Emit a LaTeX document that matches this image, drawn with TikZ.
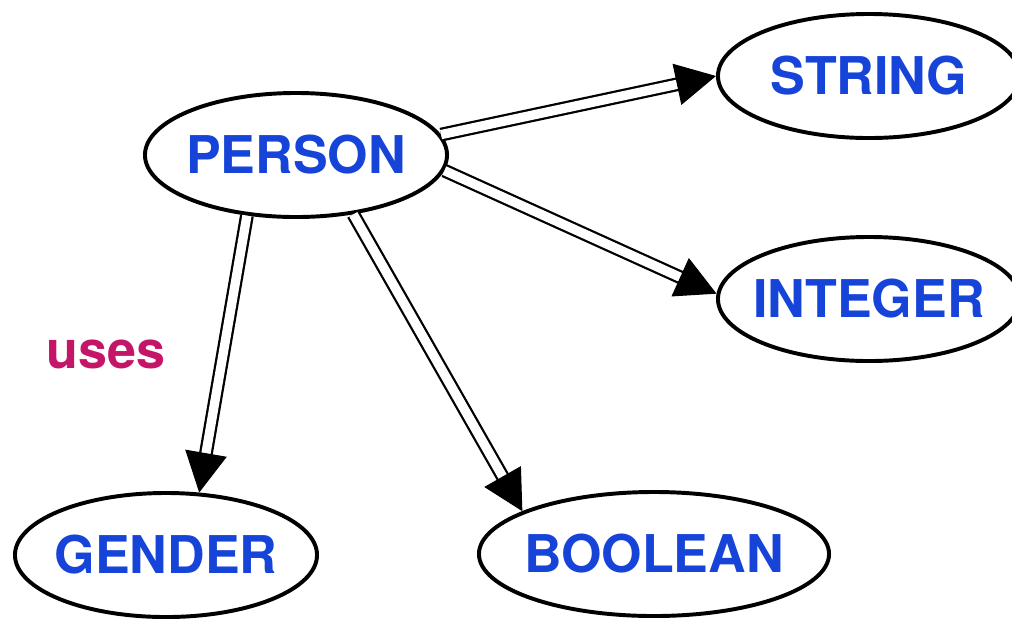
\documentclass[tikz,border=0pt]{standalone}
\usepackage{fontspec}
\setmainfont{TeX Gyre Heros}
\usetikzlibrary{shapes.geometric,arrows.meta,calc}
\definecolor{nodeblue}{RGB}{22,67,216}
\definecolor{usesred}{RGB}{196,21,104}
\tikzset{
  ent/.style={ellipse, draw=black, line width=2.8pt, fill=white, inner sep=0pt,
    minimum width=7.55cm, minimum height=3.1cm,
    font=\fontsize{37pt}{40pt}\selectfont\bfseries, text=nodeblue},
  dbl/.style={draw=black, line width=1.6pt, double=white, double distance=6.6pt,
    shorten >=26pt},
  tipline/.style={draw=black, line width=0.8pt,
    -{Triangle[length=28.4pt,width=29.8pt]}},
}
\begin{document}
\begin{tikzpicture}[x=0.025cm,y=-0.025cm]
\useasboundingbox (0,0) rectangle (1012,621);
\clip (0,0) rectangle (1012,621);
\node[ent] (person) at (296,155) {\makebox[0pt]{PERSON}};
\node[ent] (string) at (869,76) {\makebox[0pt]{STRING}};
\node[ent] (integer) at (869,299) {\makebox[0pt]{INTEGER}};
\node[ent] (gender) at (166,555) {\makebox[0pt]{GENDER}};
\node[ent, minimum width=8.75cm] (boolean) at (654,554) {\makebox[0pt]{BOOLEAN}};
\node[font=\fontsize{37pt}{40pt}\selectfont\bfseries, text=usesred] (uses) at (106,354) {uses};
% edges
\path[dbl] (person.8) -- (string.180);
\draw[tipline] ($(string.180)!3pt!(person.8)$) -- (string.180);
\path[dbl] (person.-6.5) -- (integer.178);
\draw[tipline] ($(integer.178)!3pt!(person.-6.5)$) -- (integer.178);
\path[dbl] (person.231) -- (gender.62.7);
\draw[tipline] ($(gender.62.7)!3pt!(person.231)$) -- (gender.62.7);
\path[dbl] (person.-46) -- (boolean.162);
\draw[tipline] ($(boolean.162)!3pt!(person.-46)$) -- (boolean.162);
\end{tikzpicture}
\end{document}
